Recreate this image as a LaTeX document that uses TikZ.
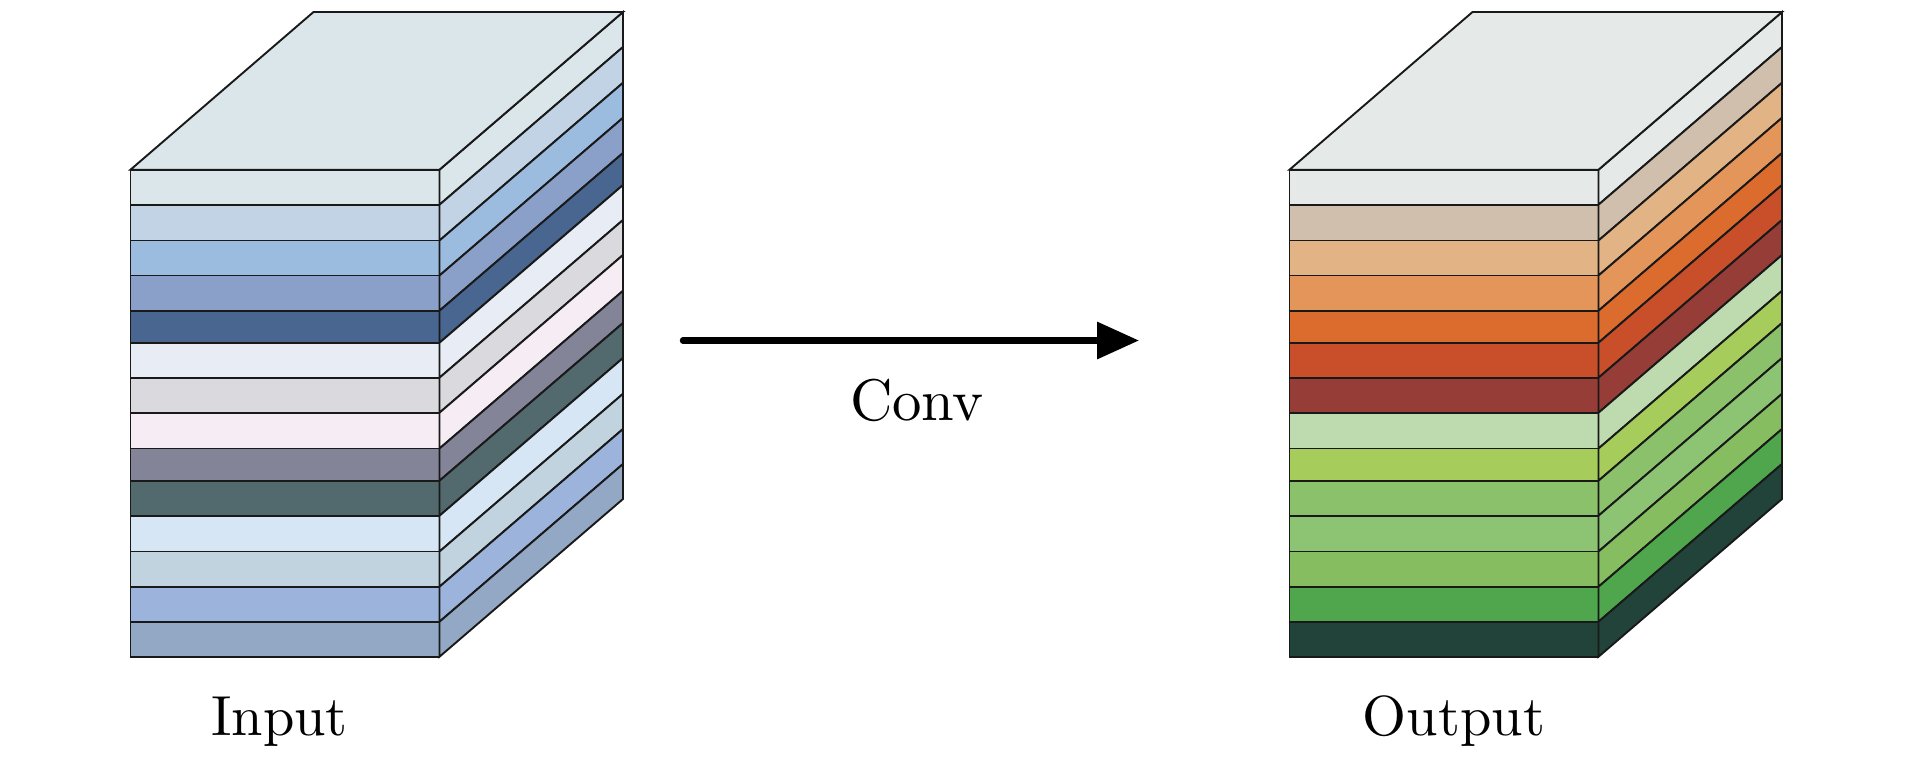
\documentclass[tikz,border=0pt]{standalone}
\usetikzlibrary{arrows.meta}
\definecolor{ia}{HTML}{DBE6EB}\definecolor{ib}{HTML}{C1D3E5}\definecolor{ic}{HTML}{9BBCDF}\definecolor{id}{HTML}{8BA0C9}
\definecolor{ie}{HTML}{48668F}\definecolor{if}{HTML}{E8EDF5}\definecolor{ig}{HTML}{D9D9DE}\definecolor{ih}{HTML}{F6ECF3}
\definecolor{ii}{HTML}{848499}\definecolor{ij}{HTML}{52696E}\definecolor{ik}{HTML}{D6E6F4}\definecolor{il}{HTML}{C0D3DF}
\definecolor{im}{HTML}{9CB3DC}\definecolor{in}{HTML}{93A8C4}
\definecolor{oa}{HTML}{E5EAE8}\definecolor{ob}{HTML}{CFBFAC}\definecolor{oc}{HTML}{E2B384}\definecolor{od}{HTML}{E3955A}
\definecolor{oe}{HTML}{DC6C2E}\definecolor{of}{HTML}{C94F2A}\definecolor{og}{HTML}{953D36}\definecolor{oh}{HTML}{BEDBB0}
\definecolor{oi}{HTML}{A6CD5C}\definecolor{oj}{HTML}{8BC16B}\definecolor{ok}{HTML}{8CC474}\definecolor{ol}{HTML}{85BD60}
\definecolor{om}{HTML}{4FA64D}\definecolor{on}{HTML}{224339}
\tikzset{
  face/.style={draw=black!90,line width=1.9pt,line join=miter},
  label text/.style={inner sep=0pt,anchor=base,font=\normalsize,scale=5.65},
  main arrow/.style={line width=6.5pt,line cap=round,-{Triangle[length=42pt,width=36pt]}}
}
\newcommand{\layerstack}[2]{%
  \foreach \yt/\yb/\c in {169.7/204.7/a,204.7/240.5/b,240.5/275.5/c,275.5/310.7/d,310.7/342.7/e,342.7/377.7/f,377.7/412.7/g,412.7/448.5/h,448.5/480.7/i,480.7/515.7/j,515.7/551.5/k,551.5/586.7/l,586.7/621.7/m,621.7/656.7/n}{
    \fill[face,fill=#2\c] (#1,\yt) -- (#1+309,\yt) -- (#1+309,\yb) -- (#1,\yb) -- cycle;
    \fill[face,fill=#2\c] (#1+309,\yt) -- (#1+492.5,\yt-157.7) -- (#1+492.5,\yb-157.7) -- (#1+309,\yb) -- cycle;
  }
  \fill[face,fill=#2a] (#1,169.7) -- (#1+183,12) -- (#1+492.5,12) -- (#1+309,169.7) -- cycle;
}
\begin{document}
\begin{tikzpicture}[x=1pt,y=-1pt]
\useasboundingbox (0,0) rectangle (1913,756);
\layerstack{130.5}{i}
\layerstack{1289.5}{o}
\coordinate (from) at (683,340.5);
\coordinate (to) at (1139,340.5);
\draw[main arrow] (from) -- (to);
\node[label text,scale=1.04] (conv) at (917,420) {Conv};
\node[label text] (input) at (279.5,735) {Input};
\node[label text] (output) at (1454,735) {Output};
\end{tikzpicture}
\end{document}
